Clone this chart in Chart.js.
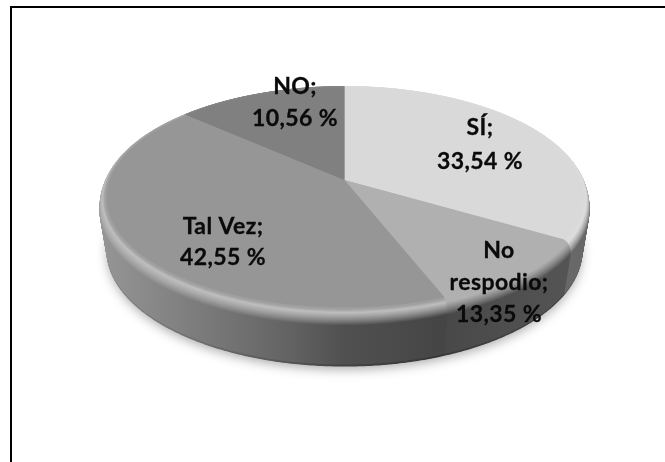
<!DOCTYPE html>
<html>
<head>
<meta charset="utf-8">
<style>
  body { margin: 0; background: #fff; }
  #frame { position: absolute; left: 10px; top: 6px; right: 0; bottom: 0; border-top: 2px solid #000; border-left: 2px solid #000; }
  canvas { position: absolute; left: 0; top: 0; }
</style>
<script src="https://cdn.jsdelivr.net/npm/chart.js@4/dist/chart.umd.js"></script>
</head>
<body>
<div id="frame"></div>
<canvas id="myChart" width="665" height="462"></canvas>
<script>
// slice sizes as drawn; the printed percentages of the two small slices are swapped in the original
var categories = ['SÍ', 'No respodio', 'Tal Vez', 'NO'];
var sliceValues = [33.54, 10.56, 42.55, 13.35];
var printedValues = ['33,54 %', '13,35 %', '42,55 %', '10,56 %'];
var labelLines = [['SÍ;'], ['No', 'respodio;'], ['Tal Vez;'], ['NO;']];

var topGrey = [217, 176, 150, 128];
var highlight = [221, 176, 190, 140];
// side shade, left to right across the pie [position 0-1, grey]
var sideGrey = [
  [[0, 110], [1, 104]],
  [[0.7, 72], [0.95, 84]],
  [[0, 150], [0.2, 124], [0.38, 100], [0.5, 80], [0.72, 68]],
  [[0, 90], [1, 90]]
];
var labelPos = [[480, 128], [499, 251], [223, 227], [295, 87]];
var lineStep = [34, 32, 31, 32];

var squashX = 1.205, squashY = 0.557, tilt = -0.16;
var bevel = 12, depth = 53;

function point(el, a, off, growX, growY) {
  var u = Math.cos(a), v = Math.sin(a), d = 1 + tilt * v;
  var X = u * Math.sqrt(1 - tilt * tilt) / d, Y = (v + tilt) / d;
  return [el.x + X * el.outerRadius * squashX * growX, el.y + off + Y * el.outerRadius * squashY * growY];
}

function slicePath(ctx, el, off, growX, growY) {
  // apex of the slice: centre of the disc, seen in perspective
  var c = [el.x, el.y + off + tilt * el.outerRadius * squashY * growY];
  ctx.beginPath();
  ctx.moveTo(c[0], c[1]);
  for (var a = el.startAngle; a < el.endAngle; a += 0.01) {
    var p = point(el, a, off, growX, growY);
    ctx.lineTo(p[0], p[1]);
  }
  var e = point(el, el.endAngle, off, growX, growY);
  ctx.lineTo(e[0], e[1]);
  ctx.closePath();
}

function mix(a, b, t) { return Math.round(a + (b - a) * t); }

function layerFill(ctx, el, i, off) {
  var left = el.x - el.outerRadius * squashX * 1.03, right = el.x + el.outerRadius * squashX * 1.03;
  var g = ctx.createLinearGradient(left, 0, right, 0);
  sideGrey[i].forEach(function(s) {
    var v = s[1];
    if (off < 2) {
      v = mix(topGrey[i], highlight[i], off / 2);
    } else if (off < bevel) {
      var t = (off - 2) / (bevel - 2);
      v = mix(highlight[i], s[1], t);
    } else if (off > depth - 2) {
      v = s[1] - 14;
    }
    g.addColorStop(s[0], 'rgb(' + v + ',' + v + ',' + v + ')');
  });
  return g;
}

var pie3d = {
  id: 'pie3d',
  beforeDatasetDraw: function(chart, args) {
    var ctx = chart.ctx, arcs = args.meta.data;
    ctx.save();
    // soft shadow under the disc
    ctx.shadowColor = 'rgba(0,0,0,0.35)';
    ctx.shadowBlur = 12;
    ctx.shadowOffsetY = 3;
    ctx.fillStyle = '#666';
    ctx.beginPath();
    ctx.ellipse(arcs[0].x, arcs[0].y + depth, arcs[0].outerRadius * squashX * 0.995, arcs[0].outerRadius * squashY * 1.05, 0, 0, Math.PI * 2);
    ctx.fill();
    ctx.restore();
    for (var off = depth; off >= 0; off -= 0.5) {
      var round = off < bevel ? Math.sqrt(1 - Math.pow(1 - off / bevel, 2)) : 1;
      var taper = off > bevel ? 0.03 * (off - bevel) / (depth - bevel) : 0;
      var gx = 1 + 0.03 * round - taper, gy = 1 + 0.055 * round;
      arcs.forEach(function(el, i) {
        slicePath(ctx, el, off, gx, gy);
        ctx.fillStyle = layerFill(ctx, el, i, off);
        ctx.fill();
      });
    }
    return false;
  },
  afterDatasetsDraw: function(chart) {
    var ctx = chart.ctx;
    ctx.save();
    ctx.font = 'bold 23px Lato';
    ctx.letterSpacing = '0.4px';
    ctx.fillStyle = '#0a0a0a';
    ctx.strokeStyle = '#0a0a0a';
    ctx.lineWidth = 0.3;
    ctx.textAlign = 'center';
    ctx.textBaseline = 'middle';
    categories.forEach(function(name, i) {
      var lines = labelLines[i].concat(printedValues[i]);
      lines.forEach(function(line, n) {
        ctx.fillText(line, labelPos[i][0], labelPos[i][1] + n * lineStep[i]);
        ctx.strokeText(line, labelPos[i][0], labelPos[i][1] + n * lineStep[i]);
      });
    });
    ctx.restore();
  }
};

var chart = new Chart(document.getElementById('myChart'), {
  type: 'pie',
  data: {
    labels: categories,
    datasets: [{ data: sliceValues, backgroundColor: ['#d9d9d9', '#b0b0b0', '#969696', '#808080'], borderWidth: 0 }]
  },
  options: {
    responsive: false,
    animation: false,
    layout: { padding: { left: 24, bottom: 67 } },
    plugins: { legend: { display: false }, tooltip: { enabled: false } }
  },
  plugins: [pie3d]
});
</script>
</body>
</html>
